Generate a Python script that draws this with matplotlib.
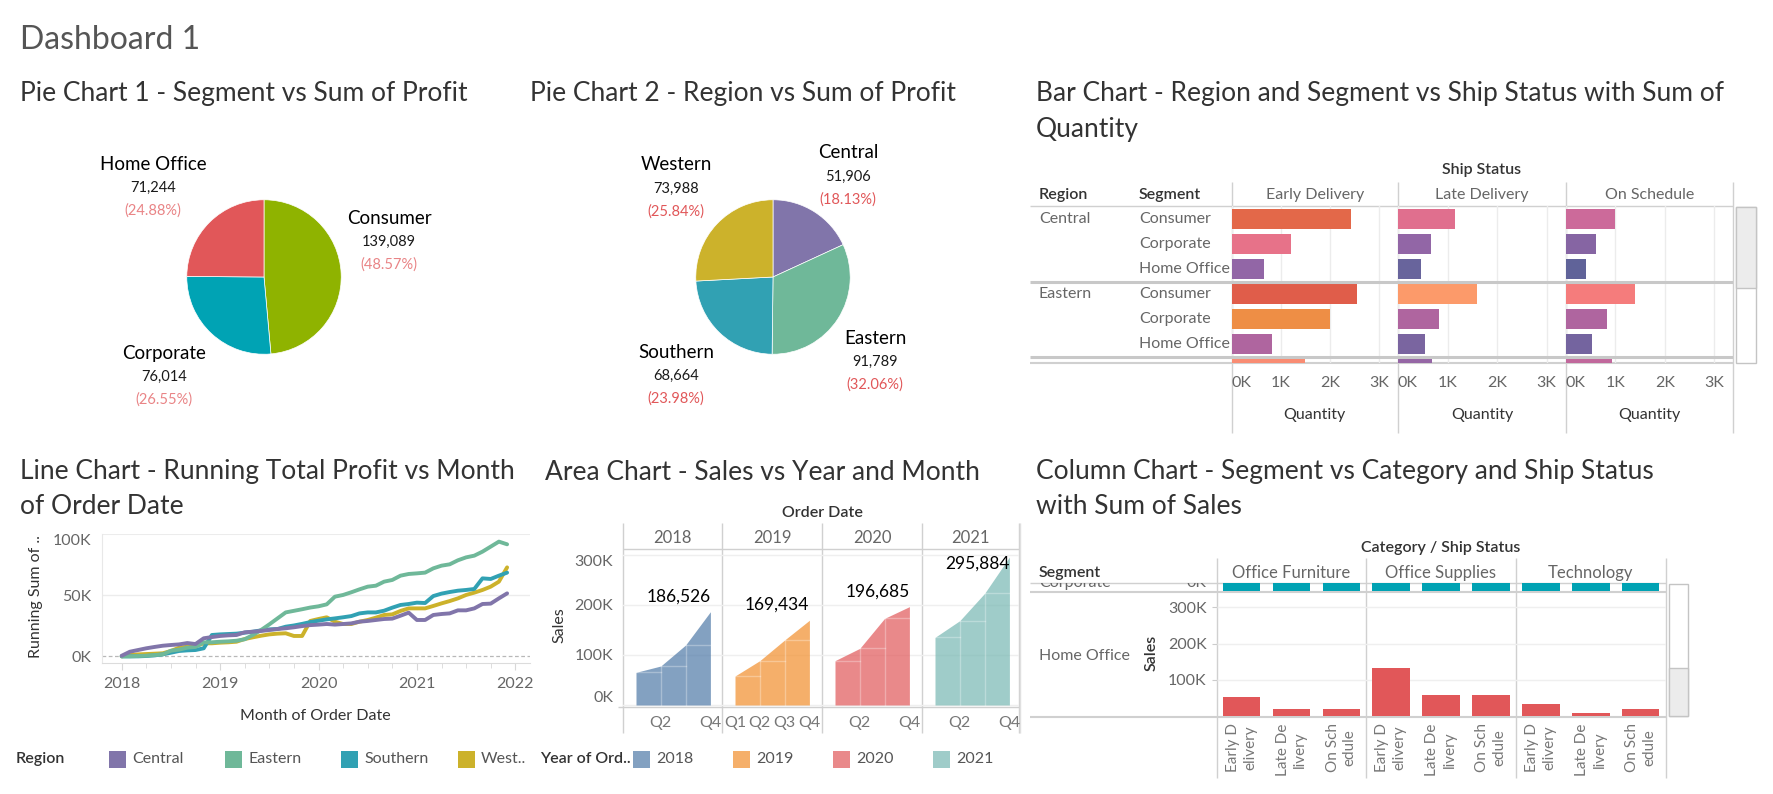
import matplotlib
matplotlib.use("Agg")
import matplotlib.pyplot as plt
import numpy as np
from matplotlib.colors import LinearSegmentedColormap
from matplotlib.patches import Rectangle

plt.rcParams["font.family"] = ["Lato", "DejaVu Sans"]

W, H = 1774, 794

# ---------------- data ----------------
segments = ["Consumer", "Corporate", "Home Office"]
segment_profit = [139089, 76014, 71244]

regions = ["Central", "Eastern", "Southern", "Western"]
region_legend = ["Central", "Eastern", "Southern", "West.."]
region_profit = [51906, 91789, 68664, 73988]

# running sum of profit per month, Jan 2018 .. Dec 2021 (thousands)
run_central = [0.5, 3.8, 5.2, 6.6, 7.7, 8.7, 9.3, 9.8, 10.9, 10.1, 14.8, 15.8,
               16.7, 17.2, 17.5, 19.7, 20.2, 20.8, 21.6, 22.4, 23.0, 23.8, 24.8, 25.6,
               26.0, 26.5, 26.0, 26.5, 27.0, 28.4, 29.0, 29.8, 30.6, 30.9, 33.3, 35.8,
               29.8, 29.8, 33.9, 34.7, 35.2, 37.7, 37.7, 39.3, 42.9, 43.2, 47.5, 51.6]
run_eastern = [0.0, 0.0, 0.3, 0.5, 1.1, 1.6, 4.6, 5.5, 7.1, 7.7, 11.5, 11.5,
               12.0, 12.3, 12.8, 14.0, 17.5, 21.6, 26.2, 31.1, 36.0, 37.3, 38.6, 40.0,
               41.0, 42.6, 48.9, 50.3, 52.5, 54.9, 57.1, 57.9, 61.2, 62.6, 66.1, 67.5,
               68.0, 68.6, 72.1, 74.3, 75.4, 78.7, 81.1, 82.5, 85.8, 89.9, 94.0, 91.8]
run_southern = [0.0, 0.0, 0.0, 0.3, 0.8, 1.6, 3.0, 4.4, 4.9, 5.2, 6.6, 17.5,
                18.0, 18.3, 18.6, 19.4, 20.2, 21.3, 22.1, 22.4, 24.3, 25.3, 26.6, 28.1,
                29.2, 30.3, 31.1, 32.0, 33.0, 35.2, 36.0, 36.0, 37.4, 39.9, 42.1, 42.9,
                44.0, 43.7, 49.4, 51.4, 52.7, 53.8, 54.4, 55.2, 63.9, 63.4, 66.1, 68.6]
run_western = [0.0, 1.1, 1.6, 1.9, 2.2, 2.5, 4.4, 7.1, 7.9, 8.2, 10.7, 10.7,
               11.2, 11.5, 12.0, 14.2, 15.6, 16.9, 18.0, 18.6, 18.9, 16.7, 16.7, 29.0,
               30.6, 32.0, 28.4, 26.5, 26.5, 28.4, 29.8, 31.7, 33.9, 34.4, 37.2, 39.3,
               39.3, 39.3, 41.3, 43.4, 45.3, 47.5, 50.3, 52.2, 54.4, 57.1, 61.2, 72.9]

ship_status = ["Early Delivery", "Late Delivery", "On Schedule"]
bar_regions = ["Central", "Eastern"]
bar_segments = ["Consumer", "Corporate", "Home Office"]
# six visible rows + the first Southern row, cut off by the scroll
qty_early = [2440, 1210, 660, 2560, 2010, 820, 1500]
qty_late = [1150, 660, 460, 1600, 820, 540, 680]
qty_onsched = [1000, 600, 410, 1400, 820, 520, 930]

years = ["2018", "2019", "2020", "2021"]
quarters = ["Q1", "Q2", "Q3", "Q4"]
sales_2018 = [65300, 78000, 120000, 186526]
sales_2019 = [58000, 88700, 130000, 169434]
sales_2020 = [88700, 113300, 173300, 196685]
sales_2021 = [135300, 168700, 223300, 295884]
quarter_shown = [["Q2", "Q4"], ["Q1", "Q2", "Q3", "Q4"], ["Q2", "Q4"], ["Q2", "Q4"]]

categories = ["Office Furniture", "Office Supplies", "Technology"]
status_wrapped = ["Early D\nelivery", "Late De\nlivery", "On Sch\nedule"]
ho_furniture = [52500, 19400, 19400]
ho_supplies = [132700, 58100, 58100]
ho_technology = [33200, 8300, 19400]
# Corporate row is scrolled out of view, only the foot of its bars shows (estimated)
corp_furniture = [80000, 35000, 38000]
corp_supplies = [180000, 75000, 77000]
corp_technology = [60000, 28000, 30000]

# ---------------- styles ----------------
seg_colors = ["#8FB300", "#00A3B4", "#E15759"]
reg_colors = ["#8175AA", "#6FB899", "#31A1B3", "#CCB22B"]
year_colors = ["#4E79A7", "#F28E2B", "#E15759", "#76B7B2"]
qty_nodes = [400, 660, 820, 1000, 1200, 1400, 1600, 2000, 2600]
qty_node_colors = ["#5E6399", "#9266A6", "#B0659F", "#CD6A9A", "#E6718A",
                   "#F57C7C", "#FC9A6A", "#EE8F45", "#DF5A4A"]
qty_cmap = LinearSegmentedColormap.from_list(
    "qty", [((v - qty_nodes[0]) / (qty_nodes[-1] - qty_nodes[0]), c)
            for v, c in zip(qty_nodes, qty_node_colors)])


def qty_color(v):
    return qty_cmap((v - qty_nodes[0]) / (qty_nodes[-1] - qty_nodes[0]))


GRID = "#ececec"
LINE = "#d0d0d0"
TICK = "#666666"
FS = 11.5
HEAD = "semibold"

fig = plt.figure(figsize=(W / 100, H / 100), dpi=100)
fig.patch.set_facecolor("white")
bg = fig.add_axes([0, 0, 1, 1])
bg.set_xlim(0, W)
bg.set_ylim(H, 0)
bg.axis("off")


def px_axes(x0, y0, x1, y1):
    ax = fig.add_axes([x0 / W, 1 - y1 / H, (x1 - x0) / W, (y1 - y0) / H])
    ax.set_facecolor("none")
    return ax


def txt(x, y, s, size=FS, color="#333333", ha="left", va="center", **kw):
    return bg.text(x, y, s, fontsize=size, color=color, ha=ha, va=va, **kw)


def hline(y, x0, x1, color=LINE, lw=1.0):
    bg.plot([x0, x1], [y, y], color=color, lw=lw, solid_capstyle="butt")


def vline(x, y0, y1, color=LINE, lw=1.0):
    bg.plot([x, x], [y0, y1], color=color, lw=lw, solid_capstyle="butt")


def swatch(x, y, color, alpha=1.0):
    bg.add_patch(Rectangle((x, y - 8.5), 17, 17, color=color, alpha=alpha, lw=0))


def no_spines(ax):
    for s in ax.spines.values():
        s.set_visible(False)


# ---------------- titles ----------------
txt(20, 40, "Dashboard 1", size=23, color="#555555")
TS = 19
txt(20, 94, "Pie Chart 1 - Segment vs Sum of Profit", size=TS)
txt(530, 94, "Pie Chart 2 - Region vs Sum of Profit", size=TS)
txt(1036, 94, "Bar Chart - Region and Segment vs Ship Status with Sum of", size=TS)
txt(1036, 129, "Quantity", size=TS)
txt(20, 472, "Line Chart - Running Total Profit vs Month", size=TS)
txt(20, 507, "of Order Date", size=TS)
txt(545, 472, "Area Chart - Sales vs Year and Month", size=TS)
txt(1036, 472, "Column Chart - Segment vs Category and Ship Status", size=TS)
txt(1036, 507, "with Sum of Sales", size=TS)


# ---------------- pies ----------------
def pie(cx, cy, values, names, colors, label_xy, pct_color):
    ax = px_axes(cx - 78, cy - 78, cx + 78, cy + 78)
    ax.pie(values, colors=colors, startangle=90, counterclock=False,
           wedgeprops=dict(edgecolor="white", linewidth=0.5))
    ax.set_xlim(-1.01, 1.01)
    ax.set_ylim(-1.01, 1.01)
    total = sum(values)
    for name, v, (lx, ly) in zip(names, values, label_xy):
        txt(lx, ly, name, size=13.5, color="black", ha="center")
        txt(lx, ly + 24, f"{v:,}", size=10.5, color="#1a1a1a", ha="center")
        txt(lx, ly + 47, f"({v / total * 100:.2f}%)", size=10.5, color=pct_color, ha="center")


pie(264, 277, segment_profit, segments, seg_colors,
    [(389, 218), (164, 353), (153, 164)], "#E98486")
pie(773, 277, region_profit, regions, reg_colors,
    [(848, 153), (875, 338), (676, 352), (676, 165)], "#E15759")

# ---------------- bar chart ----------------
bar_edges = [1231.7, 1398, 1566, 1733.5]
row0, row_h = 219, 25
b_top, b_bot = 206, 362.7
txt(1482, 170, "Ship Status", ha="center", weight=HEAD)
txt(1039, 195, "Region", weight=HEAD)
txt(1139, 195, "Segment", weight=HEAD)
for i, (status, q) in enumerate(zip(ship_status, [qty_early, qty_late, qty_onsched])):
    x0, x1 = bar_edges[i], bar_edges[i + 1]
    ax = px_axes(x0, b_top, x1, b_bot)
    ax.barh(np.arange(len(q)), q, height=0.78, color=[qty_color(v) for v in q], zorder=2)
    ax.set_ylim((b_bot - row0) / row_h, (b_top - row0) / row_h)
    ax.set_xlim(0, 3390)
    ax.set_xticks([0, 1000, 2000, 3000], ["0K", "1K", "2K", "3K"])
    ax.get_xticklabels()[0].set_ha("left")
    ax.tick_params(axis="x", length=0, pad=9.5, labelsize=FS, labelcolor=TICK)
    ax.set_yticks([])
    ax.grid(axis="x", color=GRID, lw=1, zorder=0)
    no_spines(ax)
    for sep in (2.5, 5.5):
        ax.axhline(sep, color="#c8c8c8", lw=2.2, zorder=3)
    txt((x0 + x1) / 2, 195, status, color=TICK, ha="center")
    txt((x0 + x1) / 2, 415, "Quantity", ha="center")
for sep in (2.5, 5.5):
    hline(row0 + row_h * sep, 1030, bar_edges[0], color="#c8c8c8", lw=2.2)
hline(b_top, 1030, bar_edges[-1])
hline(b_bot, 1030, bar_edges[-1], lw=1.5)
for x in bar_edges:
    vline(x, 182, 433)
for g, reg in enumerate(bar_regions):
    txt(1039, row0 + row_h * 3 * g, reg, color=TICK)
    for s, seg in enumerate(bar_segments):
        txt(1139, row0 + row_h * (3 * g + s), seg, color=TICK)
bg.add_patch(Rectangle((1736, 207), 20.5, 155.7, facecolor="white", edgecolor="#c4c4c4", lw=1))
bg.add_patch(Rectangle((1736, 207), 20.5, 81, facecolor="#ececec", edgecolor="#c4c4c4", lw=1))

# ---------------- line chart ----------------
ax = px_axes(101.7, 534.3, 530, 662.7)
mx = 2018 + np.arange(48) / 12
runs = [run_central, run_eastern, run_southern, run_western]
for vals, c in list(zip(runs, reg_colors))[::-1]:
    ax.plot(mx, np.array(vals) * 1000, color=c, lw=2.8,
            solid_joinstyle="round", solid_capstyle="round", zorder=3)
ax.set_xlim(2018 - 20 / 98.4, 2018 + (530 - 121.7) / 98.4)
ax.set_ylim(-5200, 100000)
ax.axhline(50000, color=GRID, lw=1, zorder=1)
ax.axhline(100000, color=GRID, lw=1.5, zorder=1)
ax.axhline(0, color="#b8b8b8", lw=0.9, ls=(0, (3, 2)), zorder=2)
ax.set_yticks([0, 50000, 100000], ["0K", "50K", "100K"])
ax.get_yticklabels()[2].set_va("top")
ax.tick_params(axis="y", length=0, pad=7.5, labelsize=FS, labelcolor=TICK)
ax.set_xticks([2018, 2019, 2020, 2021, 2022])
ax.set_xticks(np.arange(2018, 2022.01, 0.25), minor=True)
ax.tick_params(axis="x", which="both", length=5, color="#d8d8d8", pad=5,
               labelsize=FS, labelcolor=TICK)
ax.tick_params(axis="x", which="minor", length=3.5)
for k in ("top", "right"):
    ax.spines[k].set_visible(False)
ax.spines["left"].set_color("#e8e8e8")
ax.spines["bottom"].set_color("#dcdcdc")
txt(36, 597, "Running Sum of ..", rotation=90, ha="center")
txt(315, 716, "Month of Order Date", ha="center")
txt(15.5, 759, "Region", weight=HEAD)
for name, c, sx in zip(region_legend, reg_colors, [109.5, 225.5, 341, 458]):
    swatch(sx, 759, c)
    txt(sx + 23, 759, name, color="#555555")

# ---------------- area chart ----------------
a_edges = [623, 722, 822, 922, 1019]
a_top, a_bot = 549, 707
txt(822, 513, "Order Date", ha="center", weight=HEAD)
for k, (yr, vals, c) in enumerate(zip(years, [sales_2018, sales_2019, sales_2020, sales_2021], year_colors)):
    x0, x1 = a_edges[k], a_edges[k + 1]
    ax = px_axes(x0, a_top, x1, a_bot)
    q = np.arange(4)
    ax.fill_between(q, vals, 0, color=c, alpha=0.7, lw=0, zorder=2)
    for i in range(3):
        ax.plot([i, i + 1], [vals[i], vals[i]], color="white", alpha=0.3, lw=1, zorder=3)
        if i > 0:
            ax.plot([i, i], [0, vals[i]], color="white", alpha=0.3, lw=1, zorder=3)
    ax.set_xlim(-13 / 24.8, -13 / 24.8 + (x1 - x0) / 24.8)
    ax.set_ylim(-4000, 312000)
    ax.set_yticks([0, 100000, 200000, 300000], ["0K", "100K", "200K", "300K"])
    ax.grid(axis="y", color="#efefef", lw=1, zorder=0)
    if k == 0:
        ax.get_yticklabels()[0].set_va("bottom")
        ax.get_yticklabels()[3].set_va("top")
        ax.tick_params(axis="y", length=0, pad=7, labelsize=FS, labelcolor=TICK)
    else:
        ax.tick_params(axis="y", length=0, labelleft=False)
    ax.set_xticks([quarters.index(s) for s in quarter_shown[k]], quarter_shown[k])
    ax.tick_params(axis="x", length=0, pad=6.5, labelsize=FS, labelcolor="#777777")
    no_spines(ax)
    off = 11 if vals[3] < 250000 else -4.5
    ax.annotate(f"{vals[3]:,}", (3, vals[3]), xytext=(0, off), textcoords="offset points",
                ha="right", va="center", fontsize=12.5, color="black", zorder=4)
    txt((x0 + x1) / 2, 538, yr, color=TICK, ha="center", size=12)
for x in a_edges:
    vline(x, 523, 733)
hline(a_top, a_edges[0], a_edges[-1])
hline(707, 618, a_edges[-1])
txt(559, 625, "Sales", rotation=90, ha="center")
txt(540, 759, "Year of Ord..", weight=HEAD)
for yr, c, sx in zip(years, year_colors, [633, 733, 833, 933]):
    swatch(sx, 759, c, alpha=0.7)
    txt(sx + 23.5, 759, yr, color="#555555")

# ---------------- column chart ----------------
c_edges = [1217, 1366, 1516, 1665.7]
txt(1440.6, 548, "Category / Ship Status", ha="center", weight=HEAD)
txt(1039, 573, "Segment", weight=HEAD)
for k, (cat, ho, corp) in enumerate(zip(categories,
                                        [ho_furniture, ho_supplies, ho_technology],
                                        [corp_furniture, corp_supplies, corp_technology])):
    x0, x1 = c_edges[k], c_edges[k + 1]
    # partially visible Corporate row
    axp = px_axes(x0, 583, x1, 592)
    axp.bar(np.arange(3), corp, width=0.75, color="#00A2B3")
    axp.set_xlim(-0.5, 2.5)
    axp.set_ylim(-2800, 22100)
    axp.axis("off")
    # Home Office row
    ax = px_axes(x0, 592, x1, 717)
    ax.bar(np.arange(3), ho, width=0.75, color="#E15759", zorder=2)
    ax.set_xlim(-0.5, 2.5)
    ax.set_ylim(-2800, 342800)
    ax.set_yticks([100000, 200000, 300000], ["100K", "200K", "300K"])
    ax.grid(axis="y", color="#efefef", lw=1, zorder=0)
    if k == 0:
        ax.tick_params(axis="y", length=3.5, color="#cccccc", pad=4, labelsize=FS, labelcolor=TICK)
    else:
        ax.tick_params(axis="y", length=0, labelleft=False)
    ax.set_xticks(np.arange(3), status_wrapped)
    for lbl in ax.get_xticklabels():
        lbl.set_rotation(90)
        lbl.set_va("top")
        lbl.set_linespacing(1.3)
    ax.tick_params(axis="x", length=0, pad=4.5, labelsize=11, labelcolor="#777777")
    no_spines(ax)
    txt((x0 + x1) / 2, 573, cat, color=TICK, ha="center", size=12)

# row labels of the scrolled-away Corporate row, clipped to the visible strip
axc = px_axes(1027, 583, c_edges[0], 592)
axc.axis("off")
for s, xx, ha in (("Corporate", 12, "left"), ("0K", 179.5, "right")):
    t = axc.text(xx / (c_edges[0] - 1027), 1.05, s, fontsize=FS, color=TICK,
                 va="center", ha=ha, transform=axc.transAxes)
    t.set_clip_on(True)
    t.set_clip_box(axc.bbox)
for x in c_edges:
    vline(x, 558, 778)
hline(583, 1030, c_edges[-1])
hline(592, 1030, c_edges[-1], lw=1.5)
hline(717, 1030, c_edges[-1], lw=1.5)
vline(1020, 523, 733, color="#e0e0e0")
txt(1039, 656, "Home Office", color=TICK)
txt(1152, 653, "Sales", rotation=90, ha="center", weight=HEAD)
bg.add_patch(Rectangle((1669, 584), 19, 132, facecolor="white", edgecolor="#c4c4c4", lw=1))
bg.add_patch(Rectangle((1669, 668), 19, 48, facecolor="#ececec", edgecolor="#c4c4c4", lw=1))

fig.savefig("out.png", dpi=100)
